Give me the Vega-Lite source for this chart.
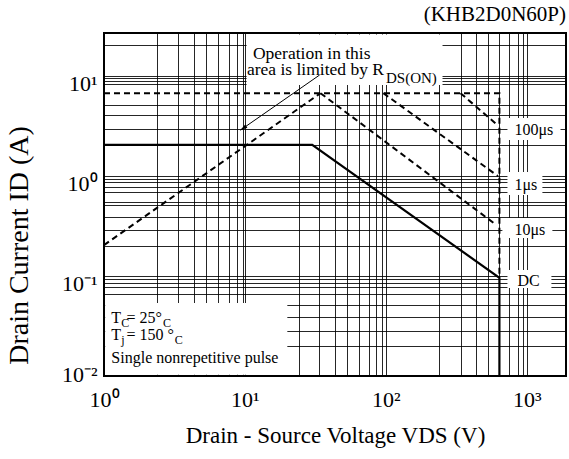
{
  "$schema": "https://vega.github.io/schema/vega-lite/v6.json",
  "width": 462,
  "height": 343,
  "autosize": {"type": "none"},
  "padding": {"left": 104, "top": 33, "right": 3, "bottom": 83},
  "background": "white",
  "title": {"text": "(KHB2D0N60P)", "anchor": "end", "frame": "group", "font": "Liberation Serif", "fontSize": 21, "fontWeight": "normal", "color": "#000", "offset": -9, "baseline": "alphabetic"},
  "config": {
    "font": "Liberation Serif",
    "view": {"stroke": "#000", "strokeWidth": 2},
    "axis": {"labelFont": "Liberation Serif", "titleFont": "Liberation Serif", "labelColor": "#000", "titleColor": "#000", "titleFontWeight": "normal", "grid": true, "gridColor": "#000", "gridOpacity": 0.85, "gridWidth": 1, "ticks": false, "domain": false, "labelOverlap": false, "labelBound": false, "labelFlush": false}
  },
  "datasets": {
    "lines": [
      {"series": "SOA", "i": 0, "x": 1, "y": 6.75},
      {"series": "SOA", "i": 1, "x": 640, "y": 6.75},
      {"series": "SOA", "i": 2, "x": 640, "y": 0.0961},
      {"series": "RDS", "i": 0, "x": 1, "y": 0.204},
      {"series": "RDS", "i": 1, "x": 34.4, "y": 6.75},
      {"series": "100μs", "i": 0, "x": 339, "y": 6.75},
      {"series": "100μs", "i": 1, "x": 620, "y": 3.24},
      {"series": "1μs", "i": 0, "x": 96, "y": 6.75},
      {"series": "1μs", "i": 1, "x": 625, "y": 1.0},
      {"series": "10μs", "i": 0, "x": 34.4, "y": 6.75},
      {"series": "10μs", "i": 1, "x": 609, "y": 0.324},
      {"series": "DC", "i": 0, "x": 1, "y": 2.05},
      {"series": "DC", "i": 1, "x": 30.06, "y": 2.05},
      {"series": "DC", "i": 2, "x": 640, "y": 0.0961},
      {"series": "DC", "i": 3, "x": 640, "y": 0.01}
    ],
    "boxes": [
      {"name": "RDS note", "x": 10.28, "x2": 252.6, "y": 8.15, "y2": 26.1},
      {"name": "conditions", "x": 1.02, "x2": 20, "y": 0.0103, "y2": 0.0537},
      {"name": "100μs", "x": 730, "x2": 1737, "y": 2.3, "y2": 3.81},
      {"name": "1μs", "x": 730, "x2": 1292, "y": 0.647, "y2": 1.099},
      {"name": "10μs", "x": 672, "x2": 1521, "y": 0.24, "y2": 0.381},
      {"name": "DC", "x": 730, "x2": 1497, "y": 0.076, "y2": 0.115}
    ],
    "arrow": [
      {"i": 0, "x": 33.9, "y": 10.26},
      {"i": 1, "x": 9.32, "y": 2.89}
    ],
    "head": [{"x": 9.71, "y": 3.006}],
    "ann": [
      {"x": 11.4, "y": 14.8, "text": "Operation in this"},
      {"x": 10.33, "y": 10.26, "text": "area is limited by R"}
    ],
    "annSub": [{"x": 100.3, "y": 8.54, "text": "DS(ON)"}],
    "labels": [
      {"x": 818, "y": 2.58, "text": "100μs"},
      {"x": 818, "y": 0.726, "text": "1μs"},
      {"x": 818, "y": 0.2576, "text": "10μs"},
      {"x": 860, "y": 0.0795, "text": "DC"},
      {"x": 1.128, "y": 0.03412, "text": "T"},
      {"x": 1.442, "y": 0.03412, "text": "= 25°"},
      {"x": 1.128, "y": 0.02291, "text": "T"},
      {"x": 1.442, "y": 0.02291, "text": "= 150 °"},
      {"x": 1.128, "y": 0.0134, "text": "Single nonrepetitive pulse"}
    ],
    "subs": [
      {"x": 1.324, "y": 0.03093, "text": "C"},
      {"x": 2.62, "y": 0.0309, "text": "C"},
      {"x": 1.324, "y": 0.02089, "text": "j"},
      {"x": 3.18, "y": 0.0209, "text": "C"}
    ]
  },
  "encoding": {
    "x": {
      "field": "x", "type": "quantitative",
      "scale": {"type": "log", "domain": [1, 1900], "nice": false},
      "axis": {
        "values": [1, 2.39, 3.35, 4.35, 5.33, 6.43, 7.66, 8.84, 9.68, 10, 24.2, 33.8, 43.3, 53.3, 64, 75.7, 85.5, 94.3, 100, 239, 339, 433, 529, 640, 754, 863, 937, 1000],
        "labelExpr": "datum.value==1?'10⁰':datum.value==10?'10¹':datum.value==100?'10²':datum.value==1000?'10³':''",
        "labelFontSize": 22, "labelBaseline": "alphabetic", "labelPadding": 30,
        "title": "Drain - Source Voltage VDS (V)", "titleFontSize": 23, "titleBaseline": "alphabetic", "titleY": 66
      }
    },
    "y": {
      "field": "y", "type": "quantitative",
      "scale": {"type": "log", "domain": [0.01, 27], "nice": false},
      "axis": {
        "values": [0.01, 0.02, 0.0284, 0.0386, 0.051, 0.0655, 0.078, 0.0857, 0.0927, 0.1, 0.2, 0.29, 0.394, 0.514, 0.555, 0.7, 0.78, 0.87, 0.93, 1, 2.05, 2.93, 4.06, 5.1, 8.3, 8.95, 9.5, 10, 20.5],
        "labelExpr": "datum.value==10?'10¹':datum.value==1?'10⁰':datum.value==0.1?'10⁻¹':datum.value==0.01?'10⁻²':''",
        "labelFontSize": 22, "labelBaseline": "alphabetic", "labelPadding": 7, "labelAlign": "right",
        "labelOffset": {"condition": {"test": "datum.value <= 0.011", "value": 5}, "value": 14},
        "title": "Drain Current ID (A)", "titleFontSize": 28, "titleBaseline": "alphabetic", "titleX": -77, "titleY": 212
      }
    }
  },
  "layer": [
    {"data": {"name": "boxes"}, "mark": {"type": "rect", "fill": "white", "strokeWidth": 0}, "encoding": {"x2": {"field": "x2"}, "y2": {"field": "y2"}}},
    {"data": {"name": "lines"}, "transform": [{"filter": "datum.series != 'DC'"}], "mark": {"type": "line", "color": "#000", "strokeWidth": 2, "strokeDash": [6, 4]}, "encoding": {"detail": {"field": "series"}, "order": {"field": "i"}}},
    {"data": {"name": "lines"}, "transform": [{"filter": "datum.series == 'DC'"}], "mark": {"type": "line", "color": "#000", "strokeWidth": 2.2}, "encoding": {"detail": {"field": "series"}, "order": {"field": "i"}}},
    {"data": {"name": "arrow"}, "mark": {"type": "line", "color": "#000", "strokeWidth": 1}, "encoding": {"order": {"field": "i"}}},
    {"data": {"name": "head"}, "mark": {"type": "point", "shape": "M0,-1L0.5,1L-0.5,1Z", "filled": true, "color": "#000", "size": 60, "angle": 235, "opacity": 1}, "encoding": {}},
    {"data": {"name": "ann"}, "mark": {"type": "text", "align": "left", "baseline": "alphabetic", "fontSize": 17.5, "font": "Liberation Serif", "color": "#000"}, "encoding": {"text": {"field": "text"}}},
    {"data": {"name": "annSub"}, "mark": {"type": "text", "align": "left", "baseline": "alphabetic", "fontSize": 15, "font": "Liberation Serif", "color": "#000"}, "encoding": {"text": {"field": "text"}}},
    {"data": {"name": "labels"}, "mark": {"type": "text", "align": "left", "baseline": "alphabetic", "fontSize": 16, "font": "Liberation Serif", "color": "#000"}, "encoding": {"text": {"field": "text"}}},
    {"data": {"name": "subs"}, "mark": {"type": "text", "align": "left", "baseline": "alphabetic", "fontSize": 12, "font": "Liberation Serif", "color": "#000"}, "encoding": {"text": {"field": "text"}}}
  ]
}
